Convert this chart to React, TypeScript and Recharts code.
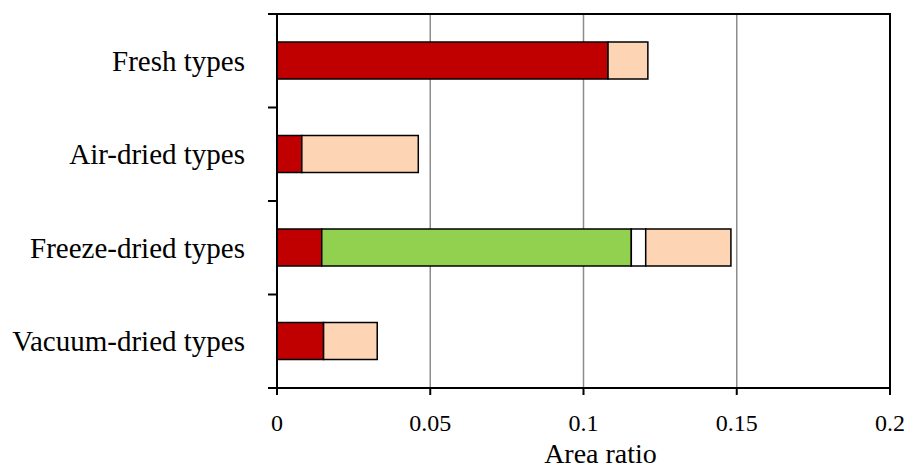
import { FC } from "react";
import {
  Bar,
  BarChart,
  CartesianGrid,
  ReferenceArea,
  XAxis,
  YAxis,
} from "recharts";

const categories = [
  "Fresh types",
  "Air-dried types",
  "Freeze-dried types",
  "Vacuum-dried types",
];
const redPart = [0.108, 0.0081, 0.0146, 0.0152];
const greenPart = [0, 0, 0.101, 0];
const whitePart = [0, 0, 0.0047, 0];
const peachPart = [0.013, 0.038, 0.0278, 0.0175];
const xTicks = [0, 0.05, 0.1, 0.15, 0.2];

const data = categories.map((name, i) => ({
  name,
  red: redPart[i],
  green: greenPart[i],
  white: whitePart[i],
  peach: peachPart[i],
}));

const W = 906;
const H = 468;
const PLOT_LEFT = 277;
const PLOT_TOP = 14;
const PLOT_BOTTOM = 388;
const BAND = (PLOT_BOTTOM - PLOT_TOP) / categories.length;
const FONT = "'Liberation Serif', 'Times New Roman', serif";

const CategoryTick: FC<any> = ({ y, payload, index }) => {
  const last = index === categories.length - 1;
  return (
    <g>
      <text
        x={245}
        y={y}
        textAnchor="end"
        dominantBaseline="central"
        fontFamily={FONT}
        fontSize={29}
        fill="#000"
      >
        {payload.value}
      </text>
      <line
        x1={PLOT_LEFT - 9}
        x2={PLOT_LEFT}
        y1={y - BAND / 2}
        y2={y - BAND / 2}
        stroke="#000"
        strokeWidth={2}
      />
      {last && (
        <line
          x1={PLOT_LEFT - 9}
          x2={PLOT_LEFT}
          y1={y + BAND / 2}
          y2={y + BAND / 2}
          stroke="#000"
          strokeWidth={2}
        />
      )}
    </g>
  );
};

const App: FC = () => {
  return (
    <div style={{ position: "absolute", left: 0, top: 0, background: "#fff" }}>
      <BarChart
        width={W}
        height={H}
        data={data}
        layout="vertical"
        margin={{ top: PLOT_TOP, right: 16, bottom: 0, left: 0 }}
        barSize={37}
      >
        <CartesianGrid
          horizontal={false}
          stroke="#8c8c8c"
          strokeWidth={1.5}
        />
        <XAxis
          type="number"
          domain={[0, 0.2]}
          ticks={xTicks}
          allowDataOverflow
          height={H - PLOT_BOTTOM}
          axisLine={{ stroke: "#000", strokeWidth: 2 }}
          tickLine={{ stroke: "#000", strokeWidth: 2 }}
          tickSize={7}
          tickMargin={19}
          tick={{ fill: "#000", fontSize: 24, fontFamily: FONT }}
          label={{
            value: "Area ratio",
            position: "insideBottom",
            offset: 5,
            dx: 17,
            fill: "#000",
            fontSize: 28,
            fontFamily: FONT,
          }}
        />
        <YAxis
          type="category"
          dataKey="name"
          width={PLOT_LEFT}
          axisLine={{ stroke: "#000", strokeWidth: 2 }}
          tickLine={false}
          tick={<CategoryTick />}
          interval={0}
        />
        <ReferenceArea
          x1={0}
          x2={0.2}
          fill="none"
          stroke="#000"
          strokeWidth={2}
        />
        <Bar dataKey="red" stackId="a" fill="#C00000" stroke="#000" strokeWidth={1.5} isAnimationActive={false} />
        <Bar dataKey="green" stackId="a" fill="#92D050" stroke="#000" strokeWidth={1.5} isAnimationActive={false} />
        <Bar dataKey="white" stackId="a" fill="#FFFFFF" stroke="#000" strokeWidth={1.5} isAnimationActive={false} />
        <Bar dataKey="peach" stackId="a" fill="#FDD5B5" stroke="#000" strokeWidth={1.5} isAnimationActive={false} />
      </BarChart>
    </div>
  );
};

export default App;
